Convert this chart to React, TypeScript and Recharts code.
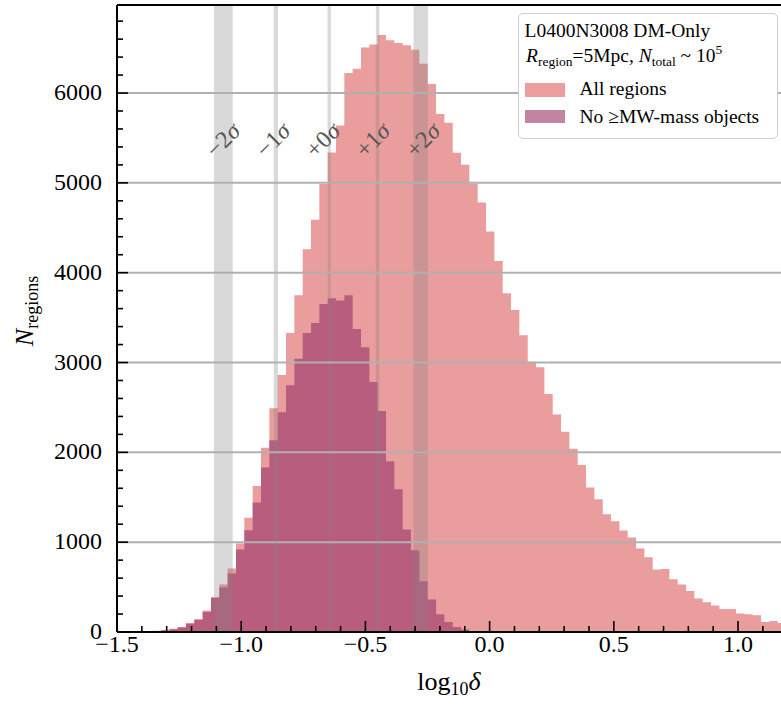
import React from 'react';
import { ComposedChart, Area, XAxis, YAxis, ReferenceArea, ReferenceLine, Legend } from 'recharts';

const FONT = '"Liberation Serif", "Times New Roman", serif';

// histogram bin edges (log10 delta)
const binEdges = [
  -1.3564, -1.3229, -1.2893, -1.2558, -1.2222, -1.1887, -1.1551, -1.1216, -1.088, -1.0545, -1.0209,
  -0.9874, -0.9538, -0.9203, -0.8867, -0.8532, -0.8196, -0.7861, -0.7525, -0.719, -0.6854, -0.6519,
  -0.6183, -0.5848, -0.5512, -0.5177, -0.4841, -0.4506, -0.417, -0.3835, -0.3499, -0.3164, -0.2828,
  -0.2493, -0.2157, -0.1822, -0.1486, -0.1151, -0.0815, -0.048, -0.0144, 0.0191, 0.0527, 0.0862,
  0.1198, 0.1533, 0.1869, 0.2204, 0.254, 0.2875, 0.3211, 0.3546, 0.3882, 0.4217, 0.4553, 0.4888,
  0.5224, 0.5559, 0.5895, 0.623, 0.6566, 0.6901, 0.7237, 0.7572, 0.7908, 0.8243, 0.8579, 0.8914,
  0.925, 0.9585, 0.9921, 1.0256, 1.0592, 1.0927, 1.1263, 1.1598, 1.1934,
];

// counts per bin: all regions
const allRegions = [
  15, 22, 35, 56, 100, 142, 240, 390, 530, 708, 985, 1271, 1624, 2051, 2490, 2861, 3328,
  3748, 4262, 4588, 4986, 5338, 5639, 6223, 6271, 6508, 6539, 6646, 6587, 6558, 6531, 6483,
  6327, 6101, 5766, 5670, 5335, 5201, 4989, 4781, 4458, 4131, 3771, 3585, 3303, 3009, 2946,
  2650, 2420, 2230, 2040, 1858, 1609, 1479, 1312, 1234, 1130, 1052, 929, 833, 695, 702, 587,
  528, 457, 372, 331, 294, 256, 256, 205, 197, 186, 111, 123, 100,
];

// counts per bin: regions with no >= MW-mass objects (first 40 bins; empty afterwards)
const noMWRegions = [
  12, 18, 30, 50, 92, 135, 223, 379, 495, 651, 918, 1133, 1442, 1832, 2136, 2445, 2746,
  3043, 3328, 3440, 3652, 3716, 3689, 3748, 3373, 3169, 2783, 2460, 1902, 1590, 1141, 910,
  565, 361, 197, 111, 56, 27, 10, 4,
];

const sigmaNames = ['\u22122\u03c3', '\u22121\u03c3', '+0\u03c3', '+1\u03c3', '+2\u03c3'];
const sigmaLow = [-1.1095, -0.869, -0.652, -0.458, -0.3063];
const sigmaHigh = [-1.0342, -0.852, -0.639, -0.444, -0.2483];
const sigmaLabelX = [-1.073, -0.872, -0.671, -0.47, -0.268];

const xTicks = [
  -1.5, -1.4, -1.3, -1.2, -1.1, -1.0, -0.9, -0.8, -0.7, -0.6, -0.5, -0.4, -0.3, -0.2, -0.1,
  0.0, 0.1, 0.2, 0.3, 0.4, 0.5, 0.6, 0.7, 0.8, 0.9, 1.0, 1.1,
];
const yTicks = [
  0, 200, 400, 600, 800, 1000, 1200, 1400, 1600, 1800, 2000, 2200, 2400, 2600, 2800, 3000,
  3200, 3400, 3600, 3800, 4000, 4200, 4400, 4600, 4800, 5000, 5200, 5400, 5600, 5800, 6000,
  6200, 6400, 6600, 6800,
];
const gridValues = [1000, 2000, 3000, 4000, 5000, 6000];
const xDomain = [-1.5, 1.173];
const yDomain = [0, 6980];

const rows = binEdges.map((edge, i) => ({
  x: edge,
  all: i < allRegions.length ? allRegions[i] : allRegions[allRegions.length - 1],
  none: i < noMWRegions.length ? noMWRegions[i] : 0,
}));

const PINK = '#EA9D9D';
const PURPLE = '#B95D7F';
const PINK_PATCH = '#EC9E9E';
const PURPLE_PATCH = '#C384A4';

const fmtX = (v: number) => {
  if (Math.abs(v) < 1e-9) return '0.0';
  return v.toFixed(1).replace('-', '\u2212');
};

const XTick = (props: any) => {
  const { x, y, payload } = props;
  const v = payload.value as number;
  const major = Math.abs(v * 2 - Math.round(v * 2)) < 1e-6;
  return (
    <g>
      <line x1={x} x2={x} y1={y} y2={y - (major ? 11 : 6)} stroke="#000" strokeWidth={1.6} />
      {major && (
        <text x={x} y={y + 20} textAnchor="middle" fontFamily={FONT} fontSize={24} fill="#000">
          {fmtX(v)}
        </text>
      )}
    </g>
  );
};

const YTick = (props: any) => {
  const { x, y, payload } = props;
  const v = payload.value as number;
  const major = v % 1000 === 0;
  return (
    <g>
      <line x1={x} x2={x + (major ? 11 : 6)} y1={y} y2={y} stroke="#000" strokeWidth={1.6} />
      {major && (
        <text x={x - 15} y={y + 7} textAnchor="end" fontFamily={FONT} fontSize={24} fill="#000">
          {v}
        </text>
      )}
    </g>
  );
};

const XLabel = (props: any) => {
  const vb = props.viewBox || { x: 117, y: 632, width: 664, height: 40 };
  const cx = vb.x + vb.width / 2;
  return (
    <text x={cx} y={690} textAnchor="middle" fontFamily={FONT} fontSize={26} fill="#000">
      log
      <tspan fontSize={18} dy={5}>10</tspan>
      <tspan fontStyle="italic" dy={-5}>{'\u03b4'}</tspan>
    </text>
  );
};

const YLabel = () => (
  <text
    x={33}
    y={311}
    transform="rotate(-90 33 311)"
    textAnchor="middle"
    fontFamily={FONT}
    fontSize={26}
    fill="#000"
  >
    <tspan fontStyle="italic">N</tspan>
    <tspan fontSize={18} dy={5}>regions</tspan>
  </text>
);

const SigmaLabel = (props: any) => {
  const vb = props.viewBox || { x: 0, y: 5 };
  const cx = vb.x;
  const cy = 140;
  const text: string = props.text;
  const head = text.slice(0, text.length - 1);
  return (
    <text
      x={cx}
      y={cy}
      textAnchor="middle"
      dominantBaseline="central"
      transform={`rotate(-45 ${cx} ${cy})`}
      fontFamily={FONT}
      fontSize={24}
      fill="#555"
    >
      {head}
      <tspan fontStyle="italic">{'\u03c3'}</tspan>
    </text>
  );
};

const subStyle: React.CSSProperties = { fontSize: 13.5, position: 'relative', top: 4 };

const LegendBox = () => (
  <div
    style={{
      position: 'relative',
      width: 260,
      height: 126,
      boxSizing: 'border-box',
      border: '1.5px solid #cfcfcf',
      borderRadius: 5,
      background: '#fff',
      fontFamily: FONT,
      fontSize: 19.5,
      lineHeight: '19.5px',
      color: '#000',
    }}
  >
    <div style={{ position: 'absolute', left: 5.5, top: 6.9, whiteSpace: 'nowrap' }}>L0400N3008 DM-Only</div>
    <div style={{ position: 'absolute', left: 7, top: 32.2, whiteSpace: 'nowrap' }}>
      <i>R</i>
      <span style={subStyle}>region</span>=5Mpc, <i>N</i>
      <span style={subStyle}>total</span> ~ 10
      <span style={{ fontSize: 13.5, position: 'relative', top: -8 }}>5</span>
    </div>
    <div style={{ position: 'absolute', left: 5.5, top: 68.5, width: 40, height: 14, background: PINK_PATCH }} />
    <div style={{ position: 'absolute', left: 60.5, top: 64.9, whiteSpace: 'nowrap' }}>All regions</div>
    <div style={{ position: 'absolute', left: 5.5, top: 95.5, width: 40, height: 13.5, background: PURPLE_PATCH }} />
    <div style={{ position: 'absolute', left: 60.5, top: 92.5, whiteSpace: 'nowrap' }}>
      No {'\u2265'}MW-mass objects
    </div>
  </div>
);

export default function App() {
  return (
    <div style={{ position: 'absolute', left: 0, top: 0, width: 781, height: 708, background: '#fff' }}>
      <ComposedChart width={781} height={708} data={rows} margin={{ top: 5, right: 0, bottom: 36, left: 0 }}>
        <XAxis
          dataKey="x"
          type="number"
          domain={xDomain}
          allowDataOverflow
          ticks={xTicks}
          interval={0}
          height={40}
          tickSize={0}
          tickMargin={0}
          tickLine={false}
          tick={<XTick />}
          axisLine={{ stroke: '#000', strokeWidth: 2 }}
          label={<XLabel />}
        />
        <YAxis
          type="number"
          domain={yDomain}
          allowDataOverflow
          ticks={yTicks}
          interval={0}
          width={117}
          tickSize={0}
          tickMargin={0}
          tickLine={false}
          tick={<YTick />}
          axisLine={{ stroke: '#000', strokeWidth: 2 }}
          label={<YLabel />}
        />
        <Area
          dataKey="all"
          name="All regions"
          type="stepAfter"
          fill={PINK}
          fillOpacity={1}
          stroke="none"
          isAnimationActive={false}
          dot={false}
          activeDot={false}
        />
        <Area
          dataKey="none"
          name="No \u2265MW-mass objects"
          type="stepAfter"
          fill={PURPLE}
          fillOpacity={1}
          stroke="none"
          isAnimationActive={false}
          dot={false}
          activeDot={false}
        />
        {sigmaLow.map((lo, i) => (
          <ReferenceArea
            key={`band-${i}`}
            x1={lo}
            x2={sigmaHigh[i]}
            fill="#808080"
            fillOpacity={0.3}
            stroke="none"
            zIndex={450}
          />
        ))}
        {gridValues.map((g) => (
          <ReferenceLine key={`grid-${g}`} y={g} stroke="#b0b0b0" strokeWidth={2} zIndex={460} />
        ))}
        {sigmaLabelX.map((lx, i) => (
          <ReferenceLine
            key={`lab-${i}`}
            x={lx}
            stroke="none"
            zIndex={470}
            label={<SigmaLabel text={sigmaNames[i]} />}
          />
        ))}
        <ReferenceLine y={yDomain[1]} stroke="#000" strokeWidth={2} ifOverflow="visible" zIndex={480} />
        <Legend
          layout="horizontal"
          verticalAlign="middle"
          align="center"
          content={<LegendBox />}
          wrapperStyle={{ left: 518, top: 13, width: 260, height: 126 }}
        />
      </ComposedChart>
    </div>
  );
}
